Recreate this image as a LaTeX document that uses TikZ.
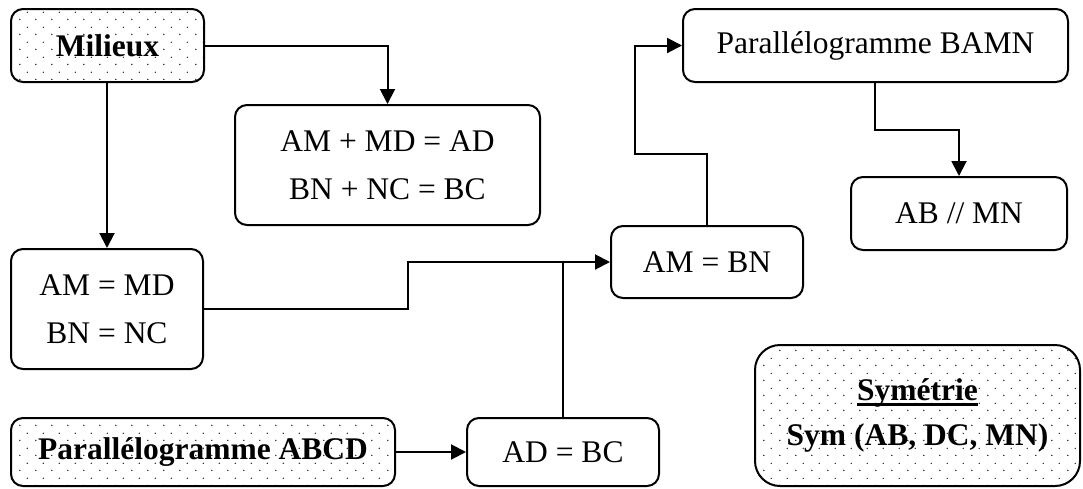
\documentclass[tikz,border=0pt]{standalone}
\usepackage{fontspec}
\setmainfont{Liberation Serif}
\usetikzlibrary{arrows.meta,patterns.meta}
\newcommand\thickul[1]{\setbox0\hbox{#1}\rlap{\rule[-5pt]{\wd0}{2.2pt}}\box0}
\tikzdeclarepattern{
  name=dotgrid,
  type=uncolored,
  bounding box={(0pt,0pt) and (15.5pt,15pt)},
  tile size={(15.5pt,15pt)},
  code={\fill (3.9pt,3.75pt) circle (0.8pt); \fill (11.65pt,11.25pt) circle (0.8pt);}
}
\tikzset{
  box/.style={draw, line width=2pt, rounded corners=12pt, align=center, inner sep=0pt,
    font=\fontsize{31.5}{48}\selectfont},
  dotbox/.style={box, pattern=dotgrid, pattern color=black!85, font=\fontsize{31.5}{45}\selectfont\bfseries},
  conn/.style={line width=2pt},
  arr/.style={conn, -{Triangle[length=15pt,width=15pt]}}
}
\begin{document}
\begin{tikzpicture}[x=1pt,y=-1pt]
\useasboundingbox (0,0) rectangle (1083,488);
\node[dotbox, minimum width=193pt, minimum height=73pt] (mil) at (107.5,45.5) {Milieux};
\node[box, minimum width=305pt, minimum height=120pt] (sum) at (387.5,165) {AM + MD = AD\\BN + NC = BC};
\node[box, minimum width=192pt, minimum height=120pt] (eq) at (107,309) {AM = MD\\BN = NC};
\node[box, minimum width=192pt, minimum height=72pt] (ambn) at (707,262) {AM = BN};
\node[box, minimum width=385pt, minimum height=73pt] (bamn) at (875.5,45.5) {Parallélogramme BAMN};
\node[box, minimum width=216pt, minimum height=73pt] (abmn) at (959,213.5) {AB // MN};
\node[dotbox, minimum width=384pt, minimum height=68pt] (abcd) at (203,452) {Parallélogramme ABCD};
\node[box, minimum width=192pt, minimum height=68pt] (adbc) at (563,452) {AD = BC};
\node[dotbox, rounded corners=25pt, minimum width=325pt, minimum height=141pt] (sym) at (917.5,415.5) {\thickul{Symétrie}\\Sym (AB, DC, MN)};
\coordinate (j1) at (635,154);
\coordinate (j2) at (875,130);
\draw[arr] (mil.east) -| (sum.north);
\draw[arr] (mil.south -| eq.north) -- (eq.north);
\draw[arr] (eq.east) -- ++(204,0) |- (ambn.west);
\draw[conn] (adbc.north) -- (adbc.north |- ambn.west);
\draw[arr] (abcd.east) -- (adbc.west);
\draw[arr] (ambn.north) |- (j1) |- (bamn.west);
\draw[arr] (bamn.south -| j2) -- (j2) -| (abmn.north);
\end{tikzpicture}
\end{document}
